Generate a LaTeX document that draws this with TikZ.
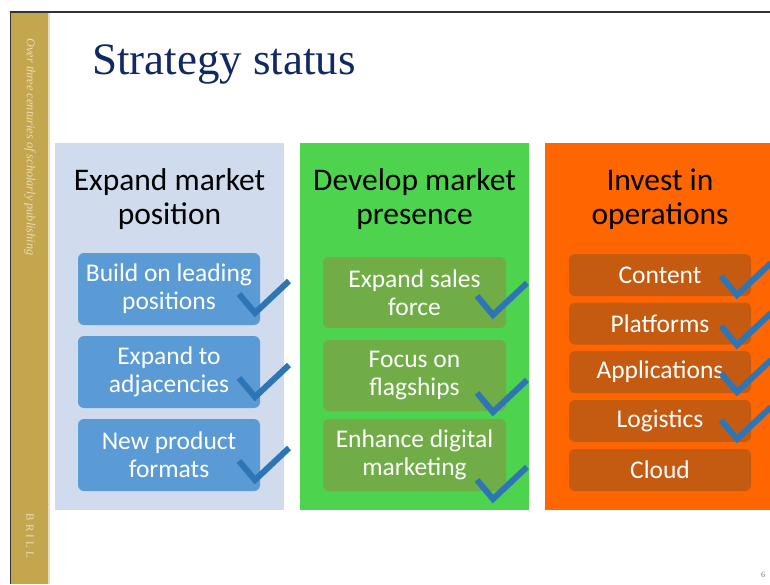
\documentclass[tikz,border=0pt]{standalone}
\usepackage{fontspec}
\setmainfont{Liberation Serif}
\setsansfont{Carlito}
\newfontfamily\brillfont[LetterSpace=30]{Liberation Serif}

\definecolor{slidegold}{RGB}{196,166,78}
\definecolor{slidecream}{RGB}{233,222,182}
\definecolor{titleblue}{RGB}{16,40,100}
\definecolor{bgblue}{RGB}{208,220,238}
\definecolor{boxblue}{RGB}{91,155,213}
\definecolor{bggreen}{RGB}{78,211,78}
\definecolor{boxgreen}{RGB}{112,173,71}
\definecolor{bgorange}{RGB}{255,102,0}
\definecolor{boxorange}{RGB}{197,90,17}
\definecolor{tickblue}{RGB}{46,117,182}

\tikzset{
  colbg/.style={minimum width=229pt, minimum height=367pt, inner sep=0pt},
  headtext/.style={font=\sffamily\fontsize{31.5}{34}\selectfont, align=center, anchor=base},
  itembox/.style={rounded corners=6pt, inner sep=0pt, text=white, align=center,
    font=\sffamily\fontsize{25.5}{28}\selectfont, minimum width=182pt},
  tickline/.style={draw=tickblue, line width=6pt},
  tickmark/.pic={\draw[tickline] (-16,-19) -- (0,0) -- (34,-32);}
}

\begin{document}
\begin{tikzpicture}[x=1pt, y=-1pt]
 \useasboundingbox (0,0) rectangle (770,584);
 % side band and frame
 \fill[slidegold] (11,12) rectangle (48,584);
 \fill[slidecream] (48,12) rectangle (50,584);
 \draw[black!80, line width=1.2pt] (10.5,584) -- (10.5,12) -- (770,12);
 \node[rotate=-90, text=slidecream, font=\itshape\fontsize{12.3}{13}\selectfont] (motto) at (30,147) {Over three centuries of scholarly publishing};
 \node[rotate=-90, text=slidecream, font=\brillfont\fontsize{11}{12}\selectfont] (brill) at (30,536) {BRILL};
 \node[anchor=base west, text=titleblue, font=\fontsize{45}{50}\selectfont, inner sep=0pt] (title) at (92,74) {Strategy status};
 \node[text=black!55, font=\fontsize{8}{9}\selectfont] (page) at (763,575) {6};

 % columns
 \node[colbg, fill=bgblue] (expand) at (169.5,326.5) {};
 \node[colbg, fill=bggreen] (develop) at (414.5,326.5) {};
 \node[colbg, fill=bgorange, minimum width=230pt] (invest) at (660,326.5) {};
 \node[headtext] (expandh) at (169.5,224) {Expand market\\position};
 \node[headtext] (developh) at (414.5,224) {Develop market\\presence};
 \node[headtext] (investh) at (660,224) {Invest in\\operations};

 % first column
 \node[itembox, fill=boxblue, minimum height=72pt] (lead) at (169,289) {Build on leading\\positions};
 \node[itembox, fill=boxblue, minimum height=72pt] (adjac) at (169,372) {Expand to\\adjacencies};
 \node[itembox, fill=boxblue, minimum height=72pt] (formats) at (169,455) {New product\\formats};

 % second column
 \node[itembox, fill=boxgreen, minimum width=183pt, minimum height=71pt] (sales) at (414.5,292.5) {Expand sales\\force};
 \node[itembox, fill=boxgreen, minimum width=183pt, minimum height=71pt] (flags) at (414.5,375.5) {Focus on\\flagships};
 \node[itembox, fill=boxgreen, minimum width=183pt, minimum height=72pt] (digital) at (414.5,455) {Enhance digital\\marketing};

 % third column
 \node[itembox, fill=boxorange, minimum height=42pt] (content) at (660,275) {Content};
 \node[itembox, fill=boxorange, minimum height=42pt] (platf) at (660,323.5) {Platforms};
 \node[itembox, fill=boxorange, minimum height=42pt] (apps) at (660,372) {Applications};
 \node[itembox, fill=boxorange, minimum height=42pt] (logis) at (660,421) {Logistics};
 \node[itembox, fill=boxorange, minimum height=42pt] (cloud) at (660,470) {Cloud};

 % ticks
 \foreach \y in {313,397,480} \pic at (255,\y) {tickmark};
 \foreach \y in {315,412,499} \pic at (493,\y) {tickmark};
 \foreach \y in {295,345,392,439} \pic at (737,\y) {tickmark};
\end{tikzpicture}
\end{document}
